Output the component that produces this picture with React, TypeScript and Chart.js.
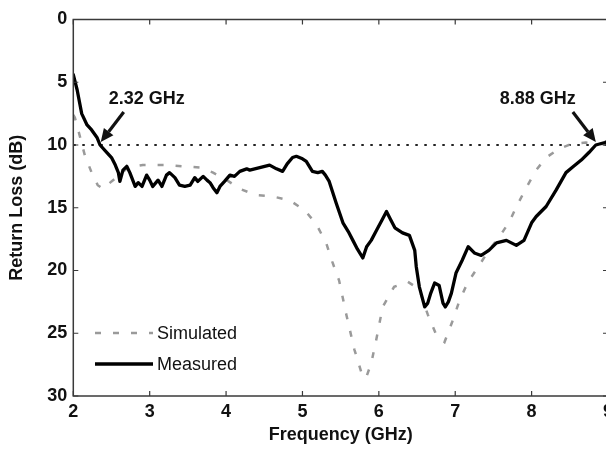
import React, { useEffect, useRef } from "react";
import { Chart, registerables } from "chart.js";

Chart.register(...registerables);

// Measured return loss (GHz, dB)
const MEASURED_FREQ = [
  2.0, 2.05, 2.11, 2.18, 2.24, 2.31, 2.35, 2.44, 2.5, 2.55, 2.59, 2.61, 2.65, 2.7, 2.74, 2.81,
  2.85, 2.9, 2.96, 3.0, 3.04, 3.11, 3.16, 3.22, 3.26, 3.33, 3.39, 3.46, 3.53, 3.59, 3.63, 3.7,
  3.75, 3.79, 3.83, 3.88, 3.92, 3.98, 4.05, 4.11, 4.18, 4.27, 4.31, 4.44, 4.57, 4.66, 4.74, 4.8,
  4.87, 4.92, 5.0, 5.05, 5.09, 5.13, 5.2, 5.26, 5.3, 5.35, 5.44, 5.53, 5.6, 5.66, 5.72, 5.79,
  5.84, 5.9, 5.97, 6.04, 6.1, 6.15, 6.21, 6.31, 6.4, 6.47, 6.49, 6.53, 6.6, 6.64, 6.68, 6.73,
  6.79, 6.84, 6.87, 6.91, 6.95, 7.01, 7.09, 7.17, 7.25, 7.34, 7.44, 7.54, 7.67, 7.8, 7.9, 8.0,
  8.06, 8.19, 8.32, 8.45, 8.53, 8.65, 8.75, 8.84, 8.96, 9.0,
];
const MEASURED_RL = [
  4.4, 5.6, 7.5, 8.4, 8.8, 9.4, 10.0, 10.6, 11.0, 11.6, 12.2, 12.9, 12.0, 11.7, 12.2, 13.3,
  13.0, 13.3, 12.4, 12.8, 13.3, 12.8, 13.3, 12.4, 12.2, 12.6, 13.2, 13.3, 13.2, 12.6, 12.9, 12.5,
  12.8, 13.0, 13.4, 13.8, 13.3, 12.9, 12.4, 12.5, 12.1, 11.9, 12.0, 11.8, 11.6, 11.9, 12.1, 11.5,
  11.0, 10.9, 11.1, 11.3, 11.7, 12.1, 12.2, 12.1, 12.4, 12.9, 14.6, 16.2, 16.9, 17.6, 18.3, 19.0,
  18.1, 17.6, 16.8, 16.0, 15.3, 15.9, 16.6, 17.0, 17.2, 18.4, 19.7, 21.3, 22.9, 22.6, 21.8, 21.0,
  21.2, 22.6, 22.9, 22.5, 21.8, 20.2, 19.2, 18.1, 18.6, 18.8, 18.4, 17.8, 17.6, 18.0, 17.6, 16.2,
  15.7, 14.9, 13.6, 12.2, 11.8, 11.2, 10.6, 10.0, 9.8, 9.7,
];

// Simulated return loss (GHz, dB)
const SIMULATED_FREQ = [
  2.0, 2.02, 2.09, 2.15, 2.24, 2.32, 2.39, 2.5, 2.61, 2.71, 2.91, 3.22, 3.43, 3.66, 3.83, 4.01,
  4.18, 4.4, 4.61, 4.83, 5.03, 5.18, 5.31, 5.39, 5.48, 5.57, 5.68, 5.77, 5.83, 5.9, 5.97, 6.05,
  6.2, 6.38, 6.53, 6.64, 6.75, 6.86, 6.96, 7.05, 7.16, 7.29, 7.44, 7.58, 7.71, 7.81, 7.94, 8.06,
  8.19, 8.36, 8.53, 8.71, 8.88, 9.0,
];
const SIMULATED_RL = [
  7.6, 7.8, 9.4, 10.8, 12.2, 13.2, 13.5, 12.9, 12.4, 11.8, 11.6, 11.6, 11.7, 11.8, 12.2, 12.8,
  13.5, 14.0, 14.1, 14.4, 15.2, 16.3, 17.8, 19.3, 20.8, 23.4, 26.3, 28.1, 28.6, 27.4, 25.4, 22.9,
  21.3, 20.9, 21.5, 23.5, 25.1, 25.7, 24.1, 22.5, 21.0, 19.8, 18.4, 17.3, 16.1, 14.8, 13.3, 12.0,
  11.0, 10.3, 9.9, 9.8, 9.9, 10.0,
];

// -10 dB reference level and the two band edges marked on it
const THRESHOLD_DB = 10;
const BAND_EDGES = [2.32, 8.88];
const BAND_EDGE_LABELS = ["2.32 GHz", "8.88 GHz"];

const X_TICKS = [2, 3, 4, 5, 6, 7, 8, 9];
const Y_TICKS = [0, 5, 10, 15, 20, 25, 30];

const FONT = "'Liberation Sans', Arial, Helvetica, sans-serif";

const toPoints = (xs: number[], ys: number[]) => xs.map((x, i) => ({ x, y: ys[i] }));

// Box, inward ticks, band-edge arrows and the inset legend
const decorations = {
  id: "decorations",
  afterDatasetsDraw(chart: any) {
    const { ctx, chartArea: a, scales } = chart;
    const xs = scales.x;
    const ys = scales.y;
    ctx.save();

    // frame
    ctx.strokeStyle = "#3a3a3a";
    ctx.lineWidth = 1.5;
    ctx.strokeRect(a.left, a.top, a.right - a.left, a.bottom - a.top);

    // inward ticks
    ctx.lineWidth = 1.2;
    ctx.beginPath();
    X_TICKS.forEach((v) => {
      const px = xs.getPixelForValue(v);
      ctx.moveTo(px, a.bottom);
      ctx.lineTo(px, a.bottom - 5);
      ctx.moveTo(px, a.top);
      ctx.lineTo(px, a.top + 5);
    });
    Y_TICKS.forEach((v) => {
      const py = ys.getPixelForValue(v);
      ctx.moveTo(a.left, py);
      ctx.lineTo(a.left + 5, py);
      ctx.moveTo(a.right, py);
      ctx.lineTo(a.right - 5, py);
    });
    ctx.stroke();

    // band-edge labels with arrows
    ctx.fillStyle = "#111";
    ctx.strokeStyle = "#111";
    ctx.font = `bold 18px ${FONT}`;
    ctx.textAlign = "center";
    ctx.textBaseline = "middle";
    const yTip = ys.getPixelForValue(THRESHOLD_DB);
    BAND_EDGES.forEach((f, i) => {
      const tipX = xs.getPixelForValue(f);
      const dir = i === 0 ? 1 : -1;
      ctx.fillText(BAND_EDGE_LABELS[i], i === 0 ? tipX + 49 : tipX - 61, yTip - 46);
      const sx = tipX + dir * 26;
      const sy = yTip - 33;
      const ex = tipX + dir * 3;
      const ey = yTip - 3;
      const ang = Math.atan2(ey - sy, ex - sx);
      const head = 13;
      const hw = 6;
      const bx = ex - head * Math.cos(ang);
      const by = ey - head * Math.sin(ang);
      ctx.lineWidth = 3.2;
      ctx.beginPath();
      ctx.moveTo(sx, sy);
      ctx.lineTo(bx, by);
      ctx.stroke();
      ctx.beginPath();
      ctx.moveTo(ex, ey);
      ctx.lineTo(bx + hw * Math.sin(ang), by - hw * Math.cos(ang));
      ctx.lineTo(bx - hw * Math.sin(ang), by + hw * Math.cos(ang));
      ctx.closePath();
      ctx.fill();
    });

    // legend
    const items = [chart.data.datasets[1], chart.data.datasets[0]];
    ctx.font = `18px ${FONT}`;
    ctx.textAlign = "left";
    items.forEach((ds: any, i: number) => {
      const y = 333 + i * 31;
      ctx.strokeStyle = ds.borderColor;
      ctx.lineWidth = ds.borderWidth;
      ctx.setLineDash(ds.borderDash || []);
      ctx.beginPath();
      ctx.moveTo(95, y);
      ctx.lineTo(153, y);
      ctx.stroke();
      ctx.setLineDash([]);
      ctx.fillStyle = "#111";
      ctx.fillText(ds.label, 157, y + 1);
    });

    ctx.restore();
  },
};

export default function App() {
  const canvasRef = useRef<HTMLCanvasElement | null>(null);

  useEffect(() => {
    const canvas = canvasRef.current;
    if (!canvas) return;
    const chart = new Chart(canvas, {
      type: "line",
      data: {
        datasets: [
          {
            label: "Measured",
            data: toPoints(MEASURED_FREQ, MEASURED_RL),
            borderColor: "#000",
            borderWidth: 3.3,
            borderJoinStyle: "round",
            borderCapStyle: "round",
            pointRadius: 0,
            tension: 0,
            order: 0,
          },
          {
            label: "Simulated",
            data: toPoints(SIMULATED_FREQ, SIMULATED_RL),
            borderColor: "#9a9a9a",
            borderWidth: 2.5,
            borderDash: [6, 12],
            pointRadius: 0,
            tension: 0,
            order: 1,
          },
          {
            label: "-10 dB",
            data: [
              { x: 2, y: THRESHOLD_DB },
              { x: 9, y: THRESHOLD_DB },
            ],
            borderColor: "#222",
            borderWidth: 2,
            borderDash: [2.5, 6.5],
            pointRadius: 0,
            order: 2,
          },
        ],
      },
      options: {
        responsive: false,
        animation: false,
        layout: { padding: { top: 19.5, right: 12, bottom: 0, left: 0 } },
        plugins: { legend: { display: false }, tooltip: { enabled: false } },
        scales: {
          x: {
            type: "linear",
            min: 2,
            max: 9,
            afterFit: (s: any) => {
              s.height = 54;
            },
            afterBuildTicks: (s: any) => {
              s.ticks = X_TICKS.map((v) => ({ value: v }));
            },
            grid: { display: false, drawTicks: false },
            border: { display: false },
            ticks: {
              padding: 5,
              color: "#111",
              font: { family: FONT, size: 18, weight: "bold" },
            },
            title: {
              display: true,
              text: "Frequency (GHz)",
              color: "#111",
              padding: { top: 0, bottom: 4 },
              font: { family: FONT, size: 18, weight: "bold" },
            },
          },
          y: {
            type: "linear",
            min: 0,
            max: 30,
            reverse: true,
            afterFit: (s: any) => {
              s.width = 73.3;
            },
            afterBuildTicks: (s: any) => {
              s.ticks = Y_TICKS.map((v) => ({ value: v }));
            },
            grid: { display: false, drawTicks: false },
            border: { display: false },
            ticks: {
              padding: 6,
              color: "#111",
              font: { family: FONT, size: 18, weight: "bold" },
            },
            title: {
              display: true,
              text: "Return Loss (dB)",
              color: "#111",
              padding: { top: 6, bottom: 0 },
              font: { family: FONT, size: 18, weight: "bold" },
            },
          },
        },
      },
      plugins: [decorations],
    });
    return () => chart.destroy();
  }, []);

  return (
    <div
      style={{
        position: "fixed",
        left: 0,
        top: 0,
        width: 606,
        height: 450,
        overflow: "hidden",
        background: "#fff",
      }}
    >
      <canvas ref={canvasRef} width={620} height={450} style={{ width: 620, height: 450 }} />
    </div>
  );
}
